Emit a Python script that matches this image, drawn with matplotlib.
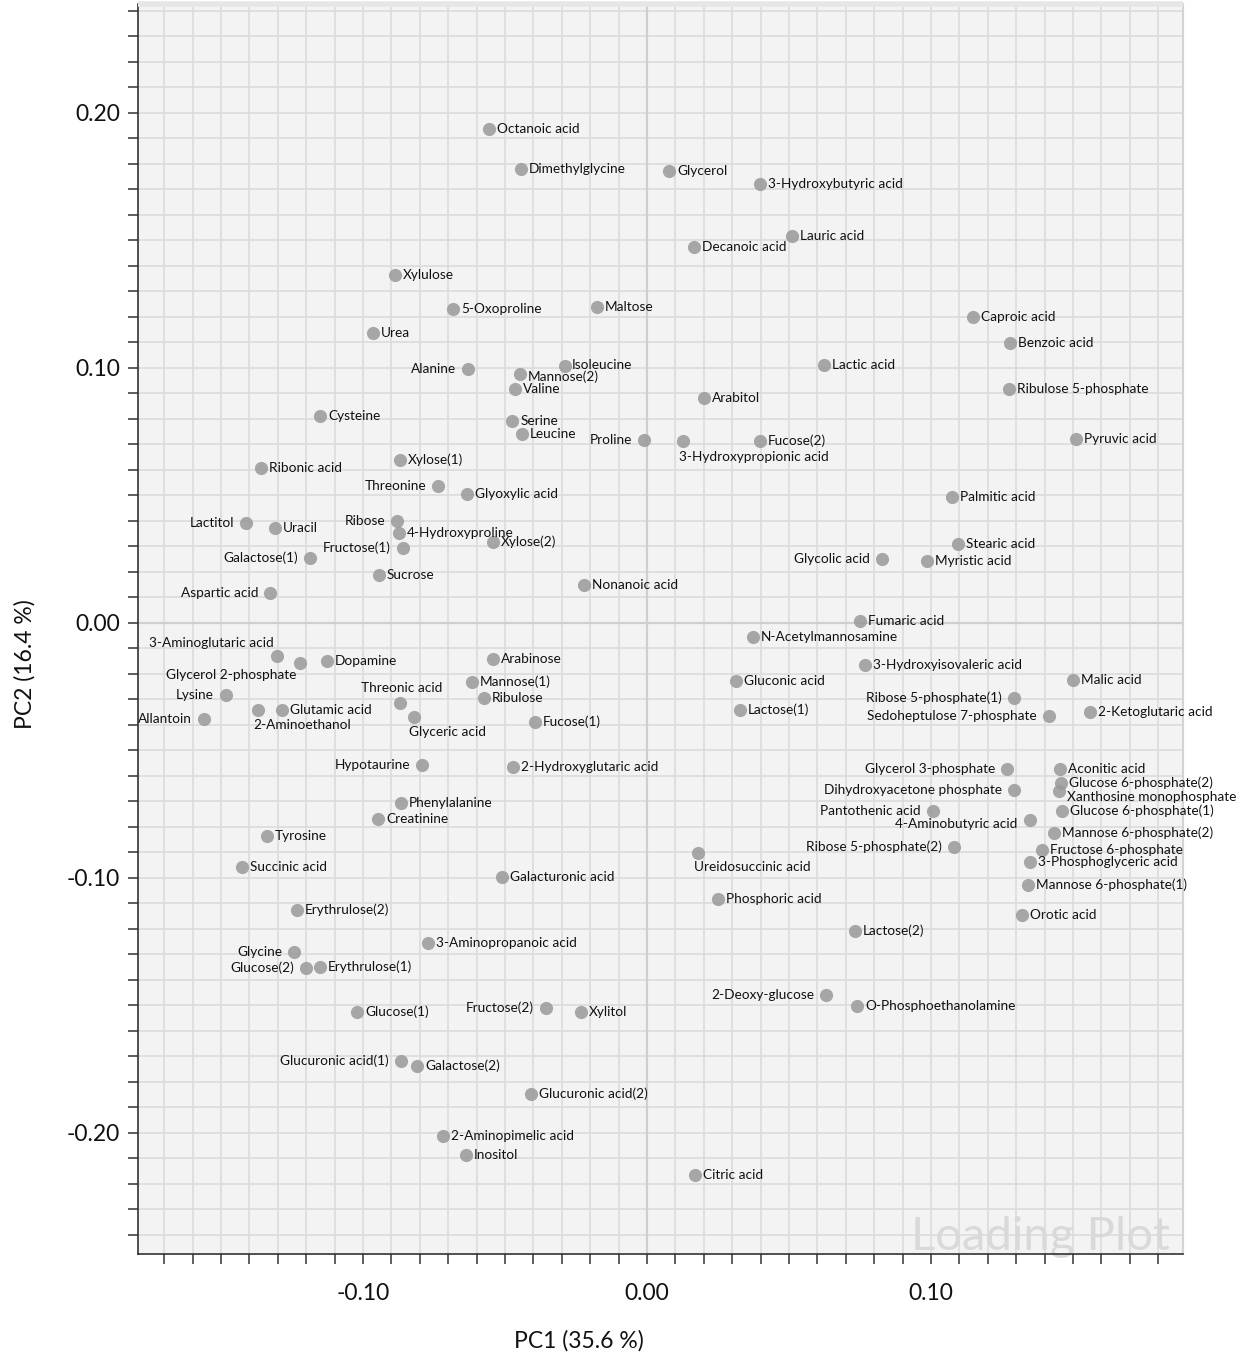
import matplotlib
matplotlib.use('Agg')
import matplotlib.pyplot as plt
from matplotlib.ticker import MultipleLocator, FuncFormatter

plt.rcParams['font.family'] = ['Lato', 'DejaVu Sans']

# metabolite loadings (PC1, PC2)
names = [
    'Octanoic acid', 'Dimethylglycine', 'Glycerol', '3-Hydroxybutyric acid', 'Lauric acid',
    'Decanoic acid', 'Xylulose', '5-Oxoproline', 'Maltose', 'Caproic acid',
    'Urea', 'Benzoic acid', 'Lactic acid', 'Isoleucine', 'Alanine',
    'Mannose(2)', 'Valine', 'Ribulose 5-phosphate', 'Arabitol', 'Cysteine',
    'Serine', 'Leucine', 'Pyruvic acid', 'Proline', '3-Hydroxypropionic acid',
    'Fucose(2)', 'Xylose(1)', 'Ribonic acid', 'Threonine', 'Glyoxylic acid',
    'Palmitic acid', 'Lactitol', 'Uracil', 'Ribose', '4-Hydroxyproline',
    'Fructose(1)', 'Xylose(2)', 'Stearic acid', 'Galactose(1)', 'Glycolic acid',
    'Myristic acid', 'Sucrose', 'Nonanoic acid', 'Aspartic acid', 'Fumaric acid',
    'N-Acetylmannosamine', '3-Aminoglutaric acid', 'Glycerol 2-phosphate', 'Dopamine', 'Arabinose',
    '3-Hydroxyisovaleric acid', 'Gluconic acid', 'Malic acid', 'Mannose(1)', 'Lysine',
    'Threonic acid', 'Ribulose', 'Ribose 5-phosphate(1)', 'Lactose(1)', '2-Ketoglutaric acid',
    'Sedoheptulose 7-phosphate', 'Glutamic acid', '2-Aminoethanol', 'Allantoin', 'Glyceric acid',
    'Fucose(1)', 'Aconitic acid', 'Hypotaurine', '2-Hydroxyglutaric acid', 'Glycerol 3-phosphate',
    'Glucose 6-phosphate(2)', 'Dihydroxyacetone phosphate', 'Xanthosine monophosphate', 'Pantothenic acid', 'Glucose 6-phosphate(1)',
    'Phenylalanine', '4-Aminobutyric acid', 'Creatinine', 'Mannose 6-phosphate(2)', 'Tyrosine',
    'Ribose 5-phosphate(2)', 'Fructose 6-phosphate', 'Ureidosuccinic acid', '3-Phosphoglyceric acid', 'Succinic acid',
    'Galacturonic acid', 'Mannose 6-phosphate(1)', 'Phosphoric acid', 'Erythrulose(2)', 'Orotic acid',
    'Lactose(2)', '3-Aminopropanoic acid', 'Glycine', 'Glucose(2)', 'Erythrulose(1)',
    '2-Deoxy-glucose', 'Fructose(2)', 'O-Phosphoethanolamine', 'Xylitol', 'Glucose(1)',
    'Glucuronic acid(1)', 'Galactose(2)', 'Glucuronic acid(2)', '2-Aminopimelic acid', 'Inositol',
    'Citric acid',
]

pc1 = [
    -0.0556, -0.0444, 0.0077, 0.0398, 0.0511,
    0.0165, -0.0887, -0.0683, -0.0176, 0.1148,
    -0.0965, 0.1278, 0.0623, -0.0289, -0.0630,
    -0.0447, -0.0465, 0.1275, 0.0201, -0.1151,
    -0.0475, -0.0440, 0.1511, -0.0011, 0.0127,
    0.0398, -0.0870, -0.1359, -0.0736, -0.0634,
    0.1074, -0.1412, -0.1310, -0.0880, -0.0873,
    -0.0859, -0.0542, 0.1095, -0.1187, 0.0827,
    0.0986, -0.0944, -0.0222, -0.1327, 0.0750,
    0.0373, -0.1303, -0.1222, -0.1127, -0.0542,
    0.0768, 0.0313, 0.1500, -0.0616, -0.1482,
    -0.0870, -0.0574, 0.1292, 0.0327, 0.1560,
    0.1415, -0.1285, -0.1370, -0.1560, -0.0820,
    -0.0394, 0.1454, -0.0792, -0.0472, 0.1268,
    0.1458, 0.1292, 0.1451, 0.1007, 0.1461,
    -0.0866, 0.1349, -0.0947, 0.1433, -0.1338,
    0.1081, 0.1391, 0.0180, 0.1349, -0.1426,
    -0.0511, 0.1342, 0.0250, -0.1232, 0.1320,
    0.0732, -0.0771, -0.1243, -0.1201, -0.1151,
    0.0630, -0.0356, 0.0739, -0.0232, -0.1021,
    -0.0866, -0.0810, -0.0408, -0.0718, -0.0637,
    0.0169,
]

pc2 = [
    0.1937, 0.1780, 0.1773, 0.1722, 0.1518,
    0.1475, 0.1365, 0.1231, 0.1239, 0.1200,
    0.1137, 0.1098, 0.1012, 0.1008, 0.0996,
    0.0976, 0.0918, 0.0918, 0.0882, 0.0812,
    0.0792, 0.0741, 0.0722, 0.0718, 0.0714,
    0.0714, 0.0639, 0.0608, 0.0537, 0.0506,
    0.0494, 0.0392, 0.0373, 0.0400, 0.0353,
    0.0294, 0.0318, 0.0310, 0.0255, 0.0251,
    0.0243, 0.0188, 0.0149, 0.0118, 0.0008,
    -0.0055, -0.0129, -0.0157, -0.0149, -0.0141,
    -0.0165, -0.0227, -0.0224, -0.0231, -0.0282,
    -0.0314, -0.0294, -0.0294, -0.0341, -0.0349,
    -0.0365, -0.0341, -0.0341, -0.0376, -0.0369,
    -0.0388, -0.0573, -0.0557, -0.0565, -0.0573,
    -0.0627, -0.0655, -0.0659, -0.0737, -0.0737,
    -0.0706, -0.0773, -0.0769, -0.0824, -0.0835,
    -0.0878, -0.0890, -0.0902, -0.0937, -0.0957,
    -0.0996, -0.1027, -0.1082, -0.1125, -0.1145,
    -0.1208, -0.1255, -0.1290, -0.1353, -0.1349,
    -0.1459, -0.1510, -0.1502, -0.1525, -0.1525,
    -0.1718, -0.1737, -0.1847, -0.2012, -0.2086,
    -0.2165,
]

# labels drawn on the left side of their point
left_labels = {
    'Alanine', 'Proline', 'Threonine', 'Lactitol', 'Ribose', 'Fructose(1)',
    'Galactose(1)', 'Glycolic acid', 'Aspartic acid', 'Lysine', 'Allantoin',
    'Ribose 5-phosphate(1)', 'Sedoheptulose 7-phosphate', 'Hypotaurine',
    'Glycerol 3-phosphate', 'Dihydroxyacetone phosphate', 'Pantothenic acid',
    'Ribose 5-phosphate(2)', 'Glycine', 'Glucose(2)',
    '2-Deoxy-glucose', 'Fructose(2)', 'Glucuronic acid(1)',
}
# other placements: (dx px, dy px, ha)
special_labels = {
    '3-Aminoglutaric acid': (-3, 13, 'right'),
    'Glycerol 2-phosphate': (-4, -12, 'right'),
    'Threonic acid': (2, 15, 'center'),
    '3-Hydroxypropionic acid': (-4, -16, 'left'),
    '2-Aminoethanol': (-5, -15, 'left'),
    'Glyceric acid': (-5, -15, 'left'),
    'Ureidosuccinic acid': (-4, -14, 'left'),
    'Xanthosine monophosphate': (8, -6, 'left'),
    'Mannose(2)': (8, -3, 'left'),
    'Isoleucine': (7, 1, 'left'),
    '4-Aminobutyric acid': (-13, -4, 'right'),
}

W, H = 1250, 1358
fig = plt.figure(figsize=(W / 100, H / 100), dpi=100)
ax = fig.add_axes([138 / W, 1 - 1254 / H, (1183 - 138) / W, (1254 - 4) / H])
ax.set_facecolor('#f3f3f3')

ax.set_xlim(-0.1792, 0.1887)
ax.set_ylim(-0.2475, 0.2427)

ax.xaxis.set_major_locator(MultipleLocator(0.01))
ax.yaxis.set_major_locator(MultipleLocator(0.01))


def fmt(v, pos):
    k = round(v * 100)
    if k % 10 == 0:
        return f'{v:.2f}'.replace('-0.00', '0.00')
    return ''


ax.xaxis.set_major_formatter(FuncFormatter(fmt))
ax.yaxis.set_major_formatter(FuncFormatter(fmt))
ax.tick_params(axis='both', direction='out', length=7.5, width=1.1, color='#333333',
               labelsize=16.5, labelcolor='#111111')
ax.tick_params(axis='x', pad=13.5)
ax.tick_params(axis='y', pad=5.5)
ax.grid(True, color='#dcdcdc', linewidth=1.2)
ax.set_axisbelow(True)
ax.axhline(0, color='#cfcfcf', linewidth=1.6, zorder=1)
ax.axvline(0, color='#cfcfcf', linewidth=1.6, zorder=1)

for side in ('left', 'bottom'):
    ax.spines[side].set_color('#333333')
    ax.spines[side].set_linewidth(1.2)
ax.spines['right'].set_color('#d4d4d4')
ax.spines['right'].set_linewidth(1.5)
ax.spines['top'].set_color('#e6e6e6')
ax.spines['top'].set_linewidth(4)
ax.spines['top'].set_capstyle('butt')

ax.scatter(pc1, pc2, s=90, color='#999999', alpha=0.85, linewidths=0, zorder=3)

for name, x, y in zip(names, pc1, pc2):
    if name in special_labels:
        dx, dy, ha = special_labels[name]
    elif name in left_labels:
        dx, dy, ha = -12, 0, 'right'
    else:
        dx, dy, ha = 8, 0, 'left'
    ax.annotate(name, (x, y), xytext=(dx, dy), textcoords='offset pixels',
                ha=ha, va='center', fontsize=9.8, color='#111111', zorder=4)

ax.text(0.987, 0.003, 'Loading Plot', transform=ax.transAxes, ha='right', va='baseline',
        fontsize=34, color='#d9d9d9', zorder=2, clip_on=False)

fig.text(579 / W, 1 - 1341 / H, 'PC1 (35.6 %)', ha='center', va='center', fontsize=16.5,
         color='#111111')
fig.text(25 / W, 1 - 664 / H, 'PC2 (16.4 %)', ha='center', va='center', fontsize=16.5,
         rotation=90, color='#111111')

fig.savefig('out.png', dpi=100)
